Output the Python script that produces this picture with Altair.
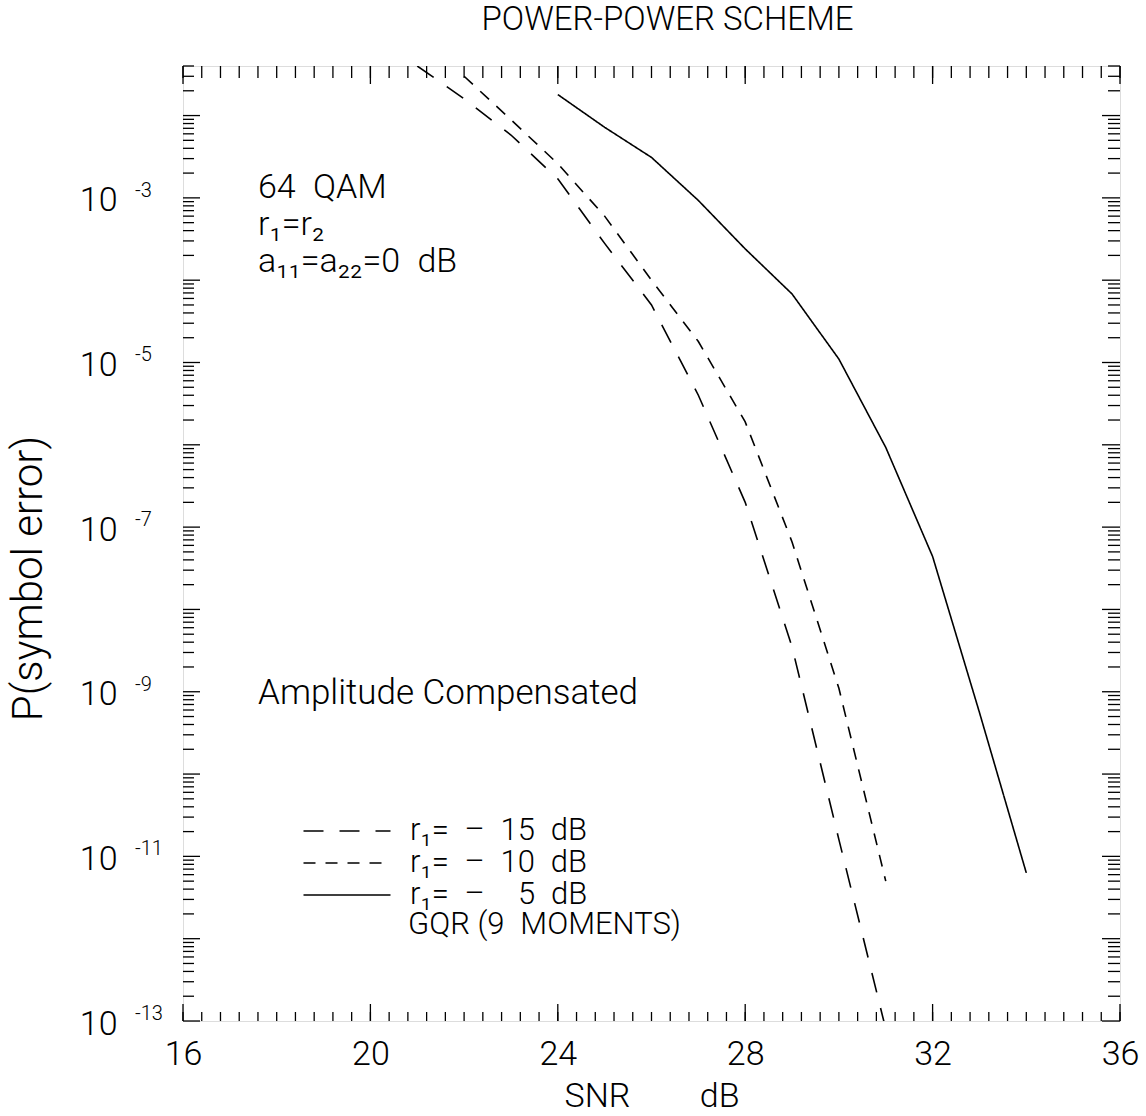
import altair as alt
import pandas as pd

FONT = "Roboto"
FW = 300
W, H = 937, 955
SP = "\u2002"  # en space (keeps wide gaps from collapsing)

title_text = "POWER-POWER SCHEME"
x_title = "SNR" + SP * 4 + "dB"
y_title = "P(symbol error)"
note_lines = ["64" + SP + "QAM", "r\u2081=r\u2082", "a\u2081\u2081=a\u2082\u2082=0" + SP + "dB"]
note2 = "Amplitude Compensated"
legend_note = "GQR (9" + SP + "MOMENTS)"

series_labels = [
    "r\u2081=" + SP + "\u2013" + SP + "15" + SP + "dB",
    "r\u2081=" + SP + "\u2013" + SP + "10" + SP + "dB",
    "r\u2081=" + SP + "\u2013" + SP + "\u2007" + "5" + SP + "dB",
]

# r1 = -15 dB (long dashes)
snr_15 = [21, 22, 23, 24, 25, 26, 27, 28, 29, 30, 31]
p_15 = [4.0e-2, 1.6e-2, 5.8e-3, 1.7e-3, 2.8e-4, 5.0e-5, 4.0e-6, 2.0e-7, 3.5e-9, 1.6e-11, 8.0e-14]
# r1 = -10 dB (short dashes)
snr_10 = [22, 23, 24, 25, 26, 27, 28, 29, 30, 31]
p_10 = [3.0e-2, 8.9e-3, 2.6e-3, 6.0e-4, 1.0e-4, 1.8e-5, 1.9e-6, 6.6e-8, 1.1e-9, 5.0e-12]
# r1 = -5 dB (solid)
snr_5 = [24, 25, 26, 27, 28, 29, 30, 31, 32, 33, 34]
p_5 = [1.8e-2, 7.2e-3, 3.1e-3, 9.3e-4, 2.4e-4, 6.8e-5, 1.1e-5, 9.3e-7, 4.4e-8, 5.6e-10, 6.3e-12]

x_domain = [16, 36]
y_domain = [1e-13, 0.04]
x_label_values = [16, 20, 24, 28, 32, 36]
x_minor_values = [round(16 + 0.4 * i, 1) for i in range(51)]
y_decade_values = [float(f"1e{d}") for d in range(-13, -1)]
y_label_values = [1e-13, 1e-11, 1e-9, 1e-7, 1e-5, 1e-3]
y_label_exps = ["-13", "-11", "-9", "-7", "-5", "-3"]
y_minor_values = [float(f"{k}e{d}") for d in range(-13, -1) for k in range(2, 10)
                  if float(f"{k}e{d}") <= 0.04]

rows = []
for lab, xs_, ps_ in [(series_labels[0], snr_15, p_15),
                      (series_labels[1], snr_10, p_10),
                      (series_labels[2], snr_5, p_5)]:
    for a, b in zip(xs_, ps_):
        rows.append({"series": lab, "snr": a, "p": b})
df = pd.DataFrame(rows)

xs = alt.Scale(domain=x_domain, nice=False, zero=False)
ys = alt.Scale(type="log", domain=y_domain, nice=False)

x_axis = alt.Axis(
    values=x_label_values, title=x_title, grid=False, ticks=False, tickSize=0,
    domain=False, labelFontSize=34, labelPadding=16, labelFlush=False,
    labelFont=FONT, labelFontWeight=FW, labelColor="black",
    titleFontSize=34, titleFont=FONT, titleFontWeight=FW, titleColor="black",
    titlePadding=8)
y_axis = alt.Axis(
    values=y_label_values, labelExpr="'10'", title=y_title, grid=False,
    ticks=False, tickSize=0, domain=False, labelFontSize=34, labelPadding=66,
    labelOffset=3, labelFont=FONT, labelFontWeight=FW, labelColor="black",
    titleFontSize=42, titleFont=FONT, titleFontWeight=FW, titleColor="black",
    titleX=-155, titleY=512, titleAlign="center", titleBaseline="middle")

lines = alt.Chart(df).mark_line(color="black", strokeWidth=1.6, clip=True).encode(
    x=alt.X("snr:Q", scale=xs, axis=x_axis),
    y=alt.Y("p:Q", scale=ys, axis=y_axis),
    strokeDash=alt.StrokeDash("series:N", scale=alt.Scale(
        domain=series_labels, range=[[20, 16], [12, 10], [1, 0]]),
        legend=alt.Legend(orient="none", legendX=148, legendY=749, title=None,
                          symbolType="M-2.9,0H2.9", symbolSize=900, symbolStrokeWidth=1.5,
                          symbolStrokeColor="black", symbolFillColor="transparent",
                          labelFontSize=31, labelFont=FONT,
                          labelFontWeight=FW, labelColor="black", labelOffset=47,
                          labelLimit=0, rowPadding=1)),
    order="snr:Q",
)


def xtick_layer(vals, y0, y1):
    return alt.Chart(pd.DataFrame({"v": vals})).mark_rule(color="black", strokeWidth=1.3).encode(
        x=alt.X("v:Q", scale=xs, axis=x_axis), y=alt.value(y0), y2=alt.value(y1))


def ytick_layer(vals, x0, x1):
    return alt.Chart(pd.DataFrame({"v": vals})).mark_rule(color="black", strokeWidth=1.3).encode(
        y=alt.Y("v:Q", scale=ys, axis=y_axis), x=alt.value(x0), x2=alt.value(x1))


ticks = [
    xtick_layer(x_minor_values, H, H - 9),
    xtick_layer(x_label_values, H, H - 17),
    xtick_layer(x_minor_values, 0, 12),
    xtick_layer(x_label_values, 0, 18),
    ytick_layer(y_minor_values, 0, 11),
    ytick_layer(y_decade_values, 0, 17),
    ytick_layer(y_minor_values, W, W - 12),
    ytick_layer(y_decade_values, W, W - 18),
]

exps = alt.Chart(pd.DataFrame({"v": y_label_values, "e": y_label_exps})).mark_text(
    align="left", baseline="middle", fontSize=20, font=FONT, fontWeight=FW, color="black", dy=-7
).encode(y=alt.Y("v:Q", scale=ys, axis=y_axis), x=alt.value(-48), text="e:N")

notes = alt.Chart(pd.DataFrame({"t": ["\n".join(note_lines)]})).mark_text(
    align="left", baseline="middle", fontSize=34, font=FONT, fontWeight=FW, color="black",
    lineBreak="\n", lineHeight=37
).encode(x=alt.value(75), y=alt.value(122), text="t:N")

note_amp = alt.Chart(pd.DataFrame({"t": [note2]})).mark_text(
    align="left", baseline="middle", fontSize=35, font=FONT, fontWeight=FW, color="black"
).encode(x=alt.value(75), y=alt.value(627), text="t:N")

note_gqr = alt.Chart(pd.DataFrame({"t": [legend_note]})).mark_text(
    align="left", baseline="middle", fontSize=31, font=FONT, fontWeight=FW, color="black"
).encode(x=alt.value(225), y=alt.value(859), text="t:N")

chart = alt.layer(lines, *ticks, exps, notes, note_amp, note_gqr).properties(
    width=W, height=H,
    title=alt.TitleParams(title_text, fontSize=33, font=FONT, fontWeight=FW, color="black",
                          offset=28, dx=16, anchor="middle"),
    autosize=alt.AutoSizeParams(type="none"),
    padding={"left": 183, "top": 66, "right": 26, "bottom": 95},
).configure_view(stroke="black", strokeWidth=1.5).configure(background="white")

chart.save("out.html", embed_options={"renderer": "svg", "actions": False})
